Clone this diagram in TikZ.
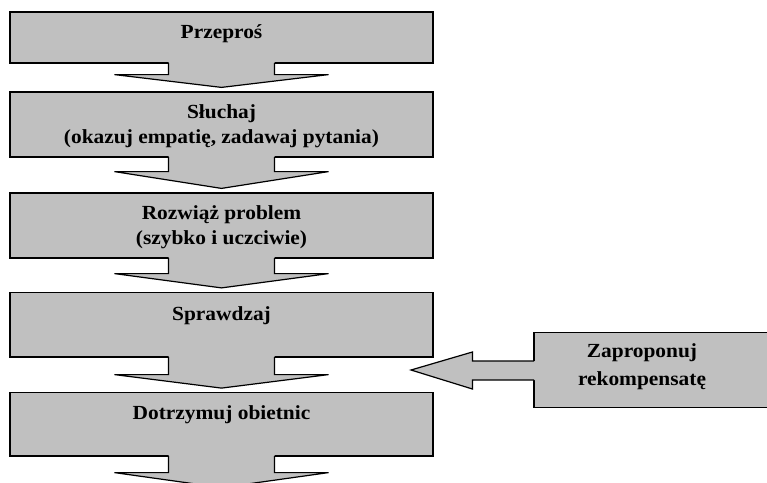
\documentclass[tikz,border=0pt]{standalone}
\usepackage{fontspec}
\setmainfont{Liberation Serif}[FakeStretch=1.07]
\usetikzlibrary{calc}
\definecolor{boxgray}{HTML}{C0C0C0}
\newcommand\mydownarrow[3]{%
  \fill[boxgray] ($(#1.south)+(-53,-2)$) -- ($(#1.south)+(-53,#2)$) -- ($(#1.south)+(-107,#2)$) -- (#3) -- ($(#1.south)+(107,#2)$) -- ($(#1.south)+(53,#2)$) -- ($(#1.south)+(53,-2)$) -- cycle;
  \draw[outl] ($(#1.south)+(-53,-0.6)$) -- ($(#1.south)+(-53,#2)$) -- ($(#1.south)+(-107,#2)$) -- (#3) -- ($(#1.south)+(107,#2)$) -- ($(#1.south)+(53,#2)$) -- ($(#1.south)+(53,-0.6)$);
}
\begin{document}
\begin{tikzpicture}[x=1pt,y=-1pt,
  box/.style={draw=black,fill=boxgray,line width=1.2pt,inner sep=0pt,minimum width=423pt},
  lbl/.style={anchor=base,inner sep=0pt,font=\fontsize{20}{24}\selectfont\bfseries},
  outl/.style={draw=black,line width=1.2pt,line join=miter}]
\useasboundingbox[fill=white] (0,0) rectangle (767,482);

% boxes
\node[box,minimum height=51pt]   (b1) at (221.5,37.5) {};
\node[box,minimum height=65pt]   (b2) at (221.5,124.5) {};
\node[box,minimum height=65pt]   (b3) at (221.5,225.5) {};
\node[box,minimum height=64.5pt] (b4) at (221.5,324.75) {};
\node[box,minimum height=63.3pt] (b5) at (221.5,424.35) {};
\node[box,minimum width=256pt,minimum height=74.6pt] (rb) at (662,370) {};

% labels
\node[lbl] (t1)  at (221.5,38)  {Przeproś};
\node[lbl] (t2a) at (221.5,118) {Słuchaj};
\node[lbl] (t2b) at (221.5,143) {(okazuj empatię, zadawaj pytania)};
\node[lbl] (t3a) at (221.5,219) {Rozwiąż problem};
\node[lbl] (t3b) at (221.5,244) {(szybko i uczciwie)};
\node[lbl] (t4)  at (221.5,320) {Sprawdzaj};
\node[lbl] (t5)  at (221.5,419) {Dotrzymuj obietnic};
\node[lbl] (r1)  at (642,357)   {Zaproponuj};
\node[lbl] (r2)  at (642,385)   {rekompensatę};

% tips
\coordinate (tip1) at ($(b2.north)+(0,-4)$);
\coordinate (tip2) at ($(b3.north)+(0,-4)$);
\coordinate (tip3) at ($(b4.north)+(0,-4)$);
\coordinate (tip4) at ($(b5.north)+(0,-4)$);
\coordinate (tip5) at ($(b5.south)+(0,31)$);
\coordinate (tipR) at (411,370);

% down arrows
\mydownarrow{b1}{11}{tip1}
\mydownarrow{b2}{14}{tip2}
\mydownarrow{b3}{15}{tip3}
\mydownarrow{b4}{17}{tip4}
\mydownarrow{b5}{16}{tip5}

% left arrow
\fill[boxgray] ($(rb.west)+(2,-9)$) -- ($(rb.west)+(-61,-9)$) -- ($(rb.west)+(-61,-18)$) -- (tipR) -- ($(rb.west)+(-61,19)$) -- ($(rb.west)+(-61,10)$) -- ($(rb.west)+(2,10)$) -- cycle;
\draw[outl] ($(rb.west)+(0.6,-9)$) -- ($(rb.west)+(-61,-9)$) -- ($(rb.west)+(-61,-18)$) -- (tipR) -- ($(rb.west)+(-61,19)$) -- ($(rb.west)+(-61,10)$) -- ($(rb.west)+(0.6,10)$);
\end{tikzpicture}
\end{document}
